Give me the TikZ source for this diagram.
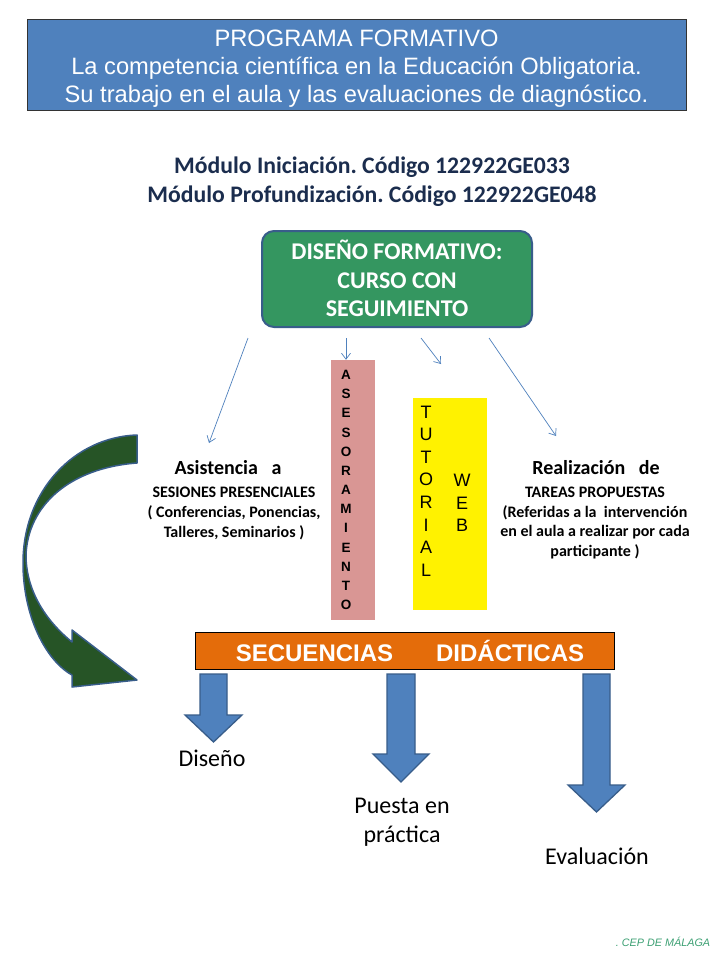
\documentclass[tikz,border=0pt]{standalone}
\usepackage{fontspec}
\setmainfont{Carlito}
\newfontfamily\arial{Liberation Sans}
\usetikzlibrary{arrows.meta}
\frenchspacing
\definecolor{tblue}{RGB}{79,129,189}
\definecolor{bordblue}{RGB}{56,93,138}
\definecolor{navy}{RGB}{27,45,78}
\definecolor{boxgreen}{RGB}{52,150,96}
\definecolor{pinkbar}{RGB}{217,150,148}
\definecolor{orangebar}{RGB}{228,108,10}
\definecolor{dgreen}{RGB}{38,84,38}
\definecolor{cepgreen}{RGB}{60,160,115}
\tikzset{
  thinarrow/.style={draw=tblue, line width=0.7pt, -{Straight Barb[length=6pt,width=9pt]}},
  blockarrow/.style={fill=tblue, draw=bordblue, line width=1.3pt, line join=miter},
  lbl/.style={inner sep=0pt, outer sep=0pt, align=center},
}
\begin{document}
\begin{tikzpicture}[x=1pt,y=-1pt]
\useasboundingbox (0,0) rectangle (720,960);
\fill[white] (0,0) rectangle (720,960);

% title
\node[draw=black!80, line width=0.8pt, fill=tblue, minimum width=659pt, minimum height=91pt, inner sep=0pt] (title) at (356.5,64.5) {};
\node[lbl, text=white, font=\arial\fontsize{23.7}{28}\selectfont] (titletxt) at (356.5,68.5)
  {PROGRAMA FORMATIVO\\La competencia científica en la Educación Obligatoria.\\Su trabajo en el aula y las evaluaciones de diagnóstico.};

% modules
\node[lbl, text=navy, font=\bfseries\fontsize{23.7}{29}\selectfont] (mod) at (372,182)
  {Módulo Iniciación. Código 122922GE033\\Módulo Profundización. Código 122922GE048};

% green box
\node[draw=bordblue, line width=2pt, fill=boxgreen, rounded corners=12pt, minimum width=270pt, minimum height=96pt,
  inner sep=0pt] (dis) at (397,279) {};
\node[lbl, text=white, font=\bfseries\fontsize{24}{28.5}\selectfont] (distxt) at (397,278.5)
  {DISEÑO FORMATIVO:\\CURSO CON\\SEGUIMIENTO};

% arrow coordinates
\coordinate (s1) at (248,338); \coordinate (e1) at (209,443);
\coordinate (s2) at (346,338);
\coordinate (s3) at (421,338); \coordinate (e3) at (441,364);
\coordinate (s4) at (489,338); \coordinate (e4) at (556,436);

% pink bar
\node[fill=pinkbar, minimum width=44pt, minimum height=260pt, inner sep=0pt] (ases) at (353,490) {};
\node[lbl, font=\arial\bfseries\fontsize{13.5}{19.17}\selectfont] (asestxt) at (346,490)
  {A\\S\\E\\S\\O\\R\\A\\M\\I\\E\\N\\T\\O};

% yellow box
\node[fill=yellow, minimum width=74pt, minimum height=212pt, inner sep=0pt] (tut) at (450,504) {};
\node[lbl, font=\arial\fontsize{18}{22.6}\selectfont] (tuttxt) at (426,491)
  {T\\U\\T\\O\\R\\I\\A\\L};
\node[lbl, font=\arial\fontsize{18}{22.5}\selectfont] (webtxt) at (462,503)
  {W\\E\\B};

% thin arrows
\draw[thinarrow] (s1) -- (e1);
\draw[thinarrow] (s2) -- (ases.north -| s2);
\draw[thinarrow] (s3) -- (e3);
\draw[thinarrow] (s4) -- (e4);

% left text
\node[lbl, font=\bfseries\fontsize{20}{20}\selectfont] (asis) at (228,468) {Asistencia\ \ \ a};
\node[lbl, font=\bfseries\fontsize{16}{20}\selectfont] (asis2) at (234,513)
  {SESIONES PRESENCIALES\\( Conferencias, Ponencias,\\Talleres, Seminarios )};

% right text
\node[lbl, font=\bfseries\fontsize{20}{20}\selectfont] (real) at (596,468) {Realización\ \ \ de};
\node[lbl, font=\bfseries\fontsize{16}{19.8}\selectfont] (real2) at (595,523)
  {TAREAS PROPUESTAS\\(Referidas a la\ \ intervención\\en el aula a realizar por cada\\participante )};

% curved green arrow
\draw[fill=dgreen, draw=bordblue, line width=1.5pt, line join=round]
  (137,435) .. controls (75,437) and (23,490) .. (23,563)
  .. controls (23,615) and (45,660) .. (72,675)
  -- (72,687) -- (137,680) -- (72,630) -- (72,642)
  .. controls (45,620) and (26,590) .. (26,555)
  .. controls (28,505) and (70,468) .. (137,463) -- cycle;

% orange bar
\node[draw=black, line width=0.8pt, fill=orangebar, minimum width=419pt, minimum height=37pt, inner sep=0pt] (sec) at (404.5,650.5) {};
\node[lbl, text=white, font=\arial\bfseries\fontsize{24}{24}\selectfont] (sectxt) at (410,651)
  {SECUENCIAS\hspace{43pt}DIDÁCTICAS};

% block arrows
\draw[blockarrow] (200,674) -- (227,674) -- (227,715) -- (242,715) -- (213.5,742) -- (185,715) -- (200,715) -- cycle;
\draw[blockarrow] (387,674) -- (415,674) -- (415,754) -- (429,754) -- (401,782) -- (373,754) -- (387,754) -- cycle;
\draw[blockarrow] (583,674) -- (610,674) -- (610,785) -- (625,785) -- (596.5,812) -- (568,785) -- (583,785) -- cycle;

% labels
\node[lbl, font=\fontsize{24}{29}\selectfont] (dsn) at (212,758) {Diseño};
\node[lbl, font=\fontsize{24}{29}\selectfont] (pue) at (402,822) {Puesta en\\práctica};
\node[lbl, font=\fontsize{24}{29}\selectfont] (eva) at (597,856) {Evaluación};

\node[lbl, text=cepgreen, font=\arial\itshape\fontsize{10.8}{12}\selectfont] (cep) at (663,942) {. CEP DE MÁLAGA};
\end{tikzpicture}
\end{document}
